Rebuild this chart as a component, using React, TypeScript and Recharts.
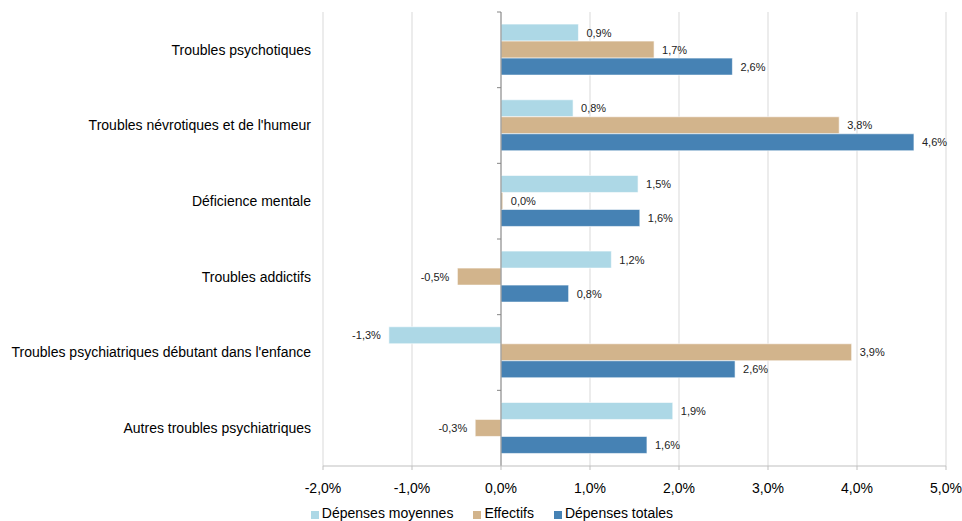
import { BarChart, Bar, XAxis, YAxis, CartesianGrid, Legend, LabelList, ReferenceLine } from "recharts"

const categories = [
  "Troubles psychotiques",
  "Troubles névrotiques et de l'humeur",
  "Déficience mentale",
  "Troubles addictifs",
  "Troubles psychiatriques débutant dans l'enfance",
  "Autres troubles psychiatriques",
]

const depensesMoyennes = [0.87, 0.81, 1.54, 1.24, -1.26, 1.93]
const effectifs = [1.72, 3.8, 0.02, -0.49, 3.94, -0.29]
const depensesTotales = [2.6, 4.64, 1.56, 0.76, 2.63, 1.64]

const xTicks = [-2, -1, 0, 1, 2, 3, 4, 5]

const series = [
  { key: "moyennes", name: "Dépenses moyennes", color: "#add8e6" },
  { key: "effectifs", name: "Effectifs", color: "#d2b48c" },
  { key: "totales", name: "Dépenses totales", color: "#4682b4" },
]

const data = categories.map((name, i) => ({
  name,
  moyennes: depensesMoyennes[i],
  effectifs: effectifs[i],
  totales: depensesTotales[i],
}))

const pct = (v: number) => v.toFixed(1).replace(".", ",") + "%"

// zero line with small ticks between categories
const ZeroAxis = (props: any) => {
  const { x1, y1, x2, y2 } = props
  const top = Math.min(y1, y2)
  const bottom = Math.max(y1, y2)
  const step = (bottom - top) / categories.length
  const ticks = []
  for (let i = 0; i < categories.length; i++) {
    ticks.push(<line key={i} x1={x1 - 4} x2={x1} y1={top + i * step} y2={top + i * step} stroke="#868686" />)
  }
  return (
    <g>
      <line x1={x1} x2={x2} y1={top} y2={bottom} stroke="#868686" />
      {ticks}
    </g>
  )
}

const LegendContent = () => (
  <div
    style={{
      display: "flex",
      justifyContent: "center",
      height: 25,
      paddingTop: 9,
      paddingLeft: 38,
      boxSizing: "border-box",
      fontSize: 14,
      lineHeight: "14px",
      color: "#000",
    }}
  >
    {series.map((s, i) => (
      <div key={s.key} style={{ display: "flex", alignItems: "center", marginLeft: i ? 20 : 0 }}>
        <span style={{ width: 8, height: 8, background: s.color, marginRight: 3, marginTop: 3 }} />
        <span>{s.name}</span>
      </div>
    ))}
  </div>
)

export default function App() {
  return (
    <div style={{ position: "absolute", left: 0, top: 0, fontFamily: "'Liberation Sans', Arial, sans-serif" }}>
      <BarChart
        width={962}
        height={521}
        data={data}
        layout="vertical"
        margin={{ top: 12, right: 16, bottom: 0, left: 0 }}
        barCategoryGap="16%"
        barGap={0}
      >
        <CartesianGrid horizontal={false} stroke="#d9d9d9" />
        <XAxis
          type="number"
          domain={[-2, 5]}
          ticks={xTicks}
          tickFormatter={pct}
          height={30}
          tickSize={4}
          tickMargin={13}
          stroke="#bfbfbf"
          tick={{ fontSize: 14, fill: "#000" }}
          interval={0}
        />
        <YAxis
          type="category"
          dataKey="name"
          width={323}
          axisLine={false}
          tickLine={false}
          tickSize={0}
          tickMargin={12}
          tick={{ fontSize: 14, fill: "#000" }}
          interval={0}
        />
        <ReferenceLine x={0} shape={<ZeroAxis />} />
        <Legend verticalAlign="bottom" content={<LegendContent />} />
        {series.map((s) => (
          <Bar key={s.key} dataKey={s.key} name={s.name} fill={s.color} stroke="#fff" strokeWidth={0.6} isAnimationActive={false}>
            <LabelList dataKey={s.key} position="right" offset={8} formatter={(v: any) => pct(Number(v))} style={{ fontSize: 11, fill: "#222" }} />
          </Bar>
        ))}
      </BarChart>
    </div>
  )
}
